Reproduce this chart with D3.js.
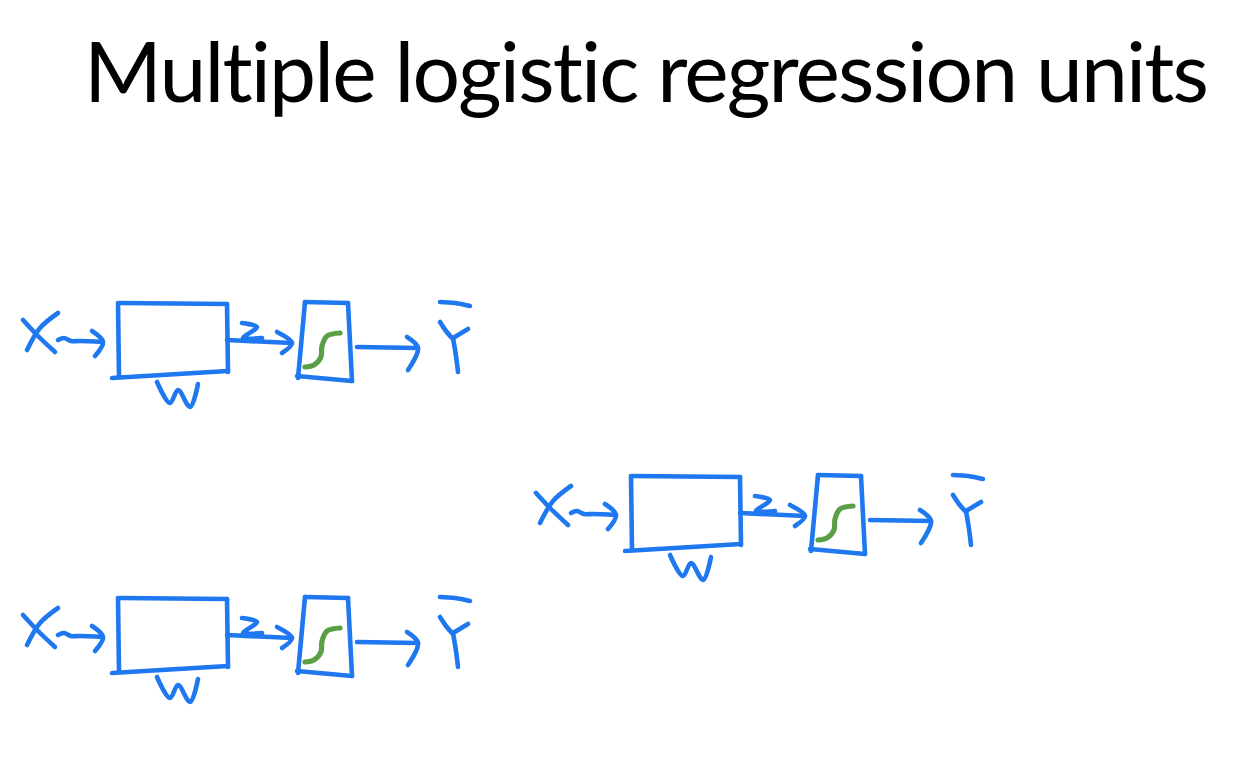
<!DOCTYPE html>
<html>
<head>
<meta charset="utf-8">
<script src="https://cdn.jsdelivr.net/npm/d3@7"></script>
<style>
  html, body { margin: 0; padding: 0; background: #fff; }
  svg { display: block; }
</style>
</head>
<body>
<div class="wrapper"></div>
<script>
const titleText = 'Multiple logistic regression units';

// where each unit sits, relative to the top-left one
const unitOffsets = [
    {name: 'top', dx: 0, dy: 0},
    {name: 'middle', dx: 513, dy: 173},
    {name: 'bottom', dx: 0, dy: 295},
];

// hand drawn strokes of one unit (coordinates of the top unit)
const blueStrokes = [
    // X
    [[23, 320], [38, 336], [55, 352]],
    [[58, 313], [40, 328], [27, 350]],
    // wavy arrow into the box
    [[58, 340], [64, 338], [71, 341], [80, 341], [103, 342]],
    [[92, 331], [103, 342], [95, 356]],
    // weight box
    [[120, 303], [227, 304]],
    [[118, 303], [119, 377]],
    [[112, 378], [228, 371]],
    [[227, 304], [228, 372]],
    // W
    [[157, 382], [170, 403], [178, 390], [190, 407], [198, 384]],
    // z
    [[242, 323], [257, 327], [243, 338], [262, 338]],
    // arrow into the sigmoid
    [[227, 340], [292, 343]],
    [[277, 332], [292, 343], [282, 353]],
    // sigmoid box
    [[305, 302], [348, 303]],
    [[348, 303], [352, 381]],
    [[297, 376], [352, 381]],
    [[305, 302], [298, 378]],
    // arrow out
    [[357, 347], [418, 348]],
    [[407, 337], [418, 348], [408, 370]],
    // Y with tilde
    [[440, 302], [455, 303], [470, 306]],
    [[440, 322], [446, 331], [452, 338]],
    [[468, 329], [453, 338]],
    [[453, 338], [456, 356], [458, 372]],
];

const greenStrokes = [
    [[305, 367], [314, 365], [321, 357], [322, 346], [327, 336], [340, 333]],
];

const dimensions = {width: 1259, height: 760};

const svg = d3.select('.wrapper')
    .append('svg')
    .attr('width', dimensions.width)
    .attr('height', dimensions.height);

const xScale = d3.scaleLinear().domain([0, dimensions.width]).range([0, dimensions.width]);
const yScale = d3.scaleLinear().domain([0, dimensions.height]).range([0, dimensions.height]);

const title = svg.append('text')
    .attr('x', xScale(84))
    .attr('y', yScale(102))
    .attr('font-family', 'Lato, "Open Sans", sans-serif')
    .attr('font-size', 84)
    .style('font-variant-ligatures', 'none')
    .attr('fill', '#000')
    .text(titleText);

// squeeze the title with letter spacing so it ends where the reference does
const natural = title.node().getComputedTextLength();
const target = xScale(1209) - xScale(84);
title.attr('letter-spacing', (target - natural) / (titleText.length - 1));

const line = d3.line()
    .x(d => xScale(d[0]))
    .y(d => yScale(d[1]))
    .curve(d3.curveCatmullRom.alpha(0.5));

const units = svg.selectAll('g.unit')
    .data(unitOffsets)
    .join('g')
    .attr('class', 'unit')
    .attr('transform', d => `translate(${d.dx}, ${d.dy})`);

units.selectAll('path.blue')
    .data(blueStrokes)
    .join('path')
    .attr('class', 'blue')
    .attr('d', line)
    .attr('fill', 'none')
    .attr('stroke', '#1f78f0')
    .attr('stroke-width', 4.6)
    .attr('stroke-linecap', 'round')
    .attr('stroke-linejoin', 'round');

units.selectAll('path.green')
    .data(greenStrokes)
    .join('path')
    .attr('class', 'green')
    .attr('d', line)
    .attr('fill', 'none')
    .attr('stroke', '#5a9f45')
    .attr('stroke-width', 5.2)
    .attr('stroke-linecap', 'round')
    .attr('stroke-linejoin', 'round');
</script>
</body>
</html>
